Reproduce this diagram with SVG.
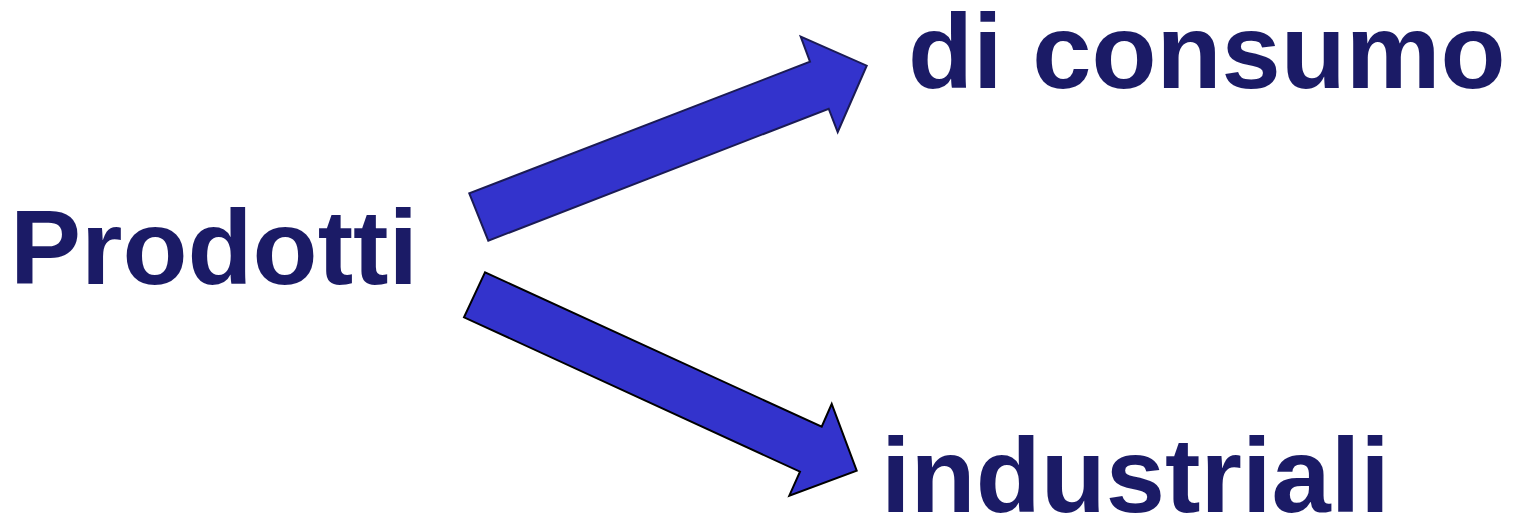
<svg xmlns="http://www.w3.org/2000/svg" width="1514" height="519" viewBox="0 0 1514 519">
<style>
.lbl{font-family:"Liberation Sans",Arial,sans-serif;font-weight:bold;font-size:106.5px;fill:#1b1b66}
.arr{fill:#3333cc;stroke-width:2;stroke-linejoin:miter}
</style>
<rect width="1514" height="519" fill="#fff"/>
<g id="node-prodotti"><text class="lbl" x="10" y="284">Prodotti</text></g>
<g id="node-consumo"><text class="lbl" x="908" y="88">di consumo</text></g>
<g id="node-industriali"><text class="lbl" x="881" y="512">industriali</text></g>
<g id="connectors">
<polygon class="arr" stroke="#1b1b55" points="469.3,193.3 488.3,240.7 828.7,108.7 837.7,132 866.7,65.7 800.7,36.7 810,61.7"/>
<polygon class="arr" stroke="#000" points="485,272.3 464,317.3 800,471.7 789.3,495.7 856.7,470.7 831.7,404 821.7,426.7"/>
</g>
</svg>
